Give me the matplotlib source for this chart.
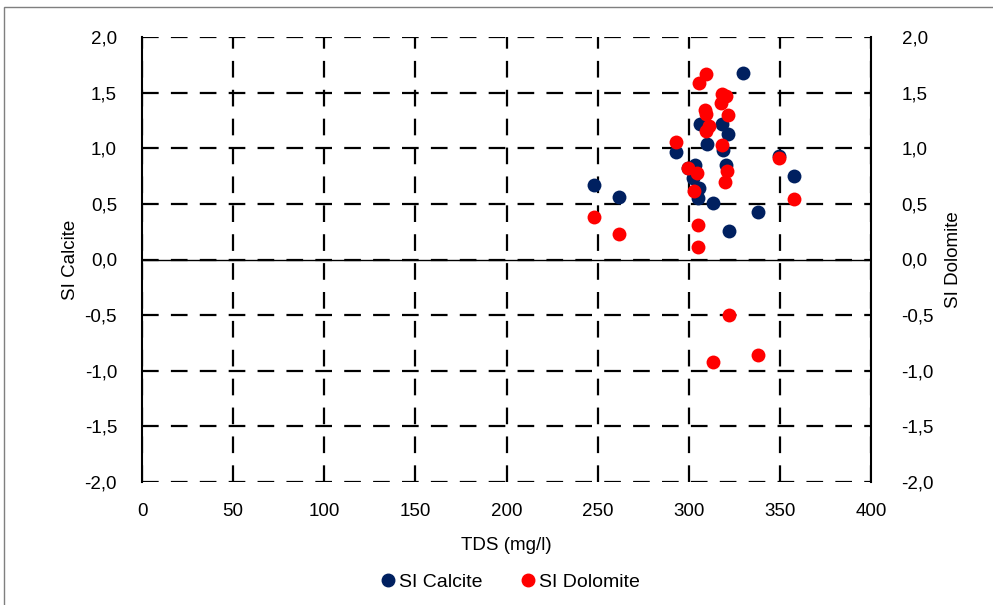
import matplotlib
matplotlib.use('Agg')
import matplotlib.pyplot as plt
import matplotlib.ticker as mticker
from matplotlib.lines import Line2D
from matplotlib.patches import Rectangle

plt.rcParams['font.family'] = ['Liberation Sans Narrow', 'Liberation Sans', 'DejaVu Sans']

# TDS (mg/l) and saturation indices
tds_calcite = [329.6, 306.2, 318.1, 321.8, 309.8, 319.0, 293.0, 320.5, 303.4, 299.7,
               302.5, 305.8, 305.2, 313.5, 248.0, 261.8, 337.9, 322.3, 357.5, 349.7]
si_calcite = [1.68, 1.22, 1.22, 1.13, 1.04, 0.98, 0.97, 0.85, 0.85, 0.825,
              0.735, 0.645, 0.555, 0.507, 0.67, 0.56, 0.426, 0.255, 0.75, 0.93]

tds_dolomite = [309.5, 305.8, 318.1, 320.5, 317.7, 308.9, 309.5, 321.8, 311.3, 309.5,
                293.0, 318.1, 299.7, 304.3, 320.9, 320.0, 303.0, 248.0, 261.8, 305.2,
                305.2, 349.7, 357.5, 322.3, 313.5, 337.9]
si_dolomite = [1.67, 1.59, 1.49, 1.47, 1.41, 1.34, 1.31, 1.30, 1.20, 1.156,
               1.06, 1.03, 0.82, 0.78, 0.80, 0.70, 0.615, 0.38, 0.23, 0.31,
               0.11, 0.91, 0.54, -0.50, -0.925, -0.86]

navy = '#002060'
red = '#FF0000'
W, H = 993, 605
fsize = 13.5


def comma(v, pos):
    return ('%.1f' % v).replace('.', ',')


fig = plt.figure(figsize=(W / 100, H / 100), dpi=100)

# thin frame of the chart area (only top/left visible in the crop)
fig.patches.append(Rectangle((4 / W, -0.1), 1.2, 1 - 7 / H + 0.1, transform=fig.transFigure,
                             fill=False, edgecolor='#7f7f7f', linewidth=1.0))

ax = fig.add_axes([142 / W, 1 - 482 / H, (871 - 142) / W, (482 - 37) / H])
ax.scatter(tds_calcite, si_calcite, s=100, color=navy, zorder=3, linewidths=0)
ax.scatter(tds_dolomite, si_dolomite, s=100, color=red, zorder=4, linewidths=0)

ax.set_xlim(0, 400)
ax.set_ylim(-2, 2)
ax.set_xticks(range(0, 401, 50))
ax.set_yticks([-2, -1.5, -1, -0.5, 0, 0.5, 1, 1.5, 2])
ax.yaxis.set_major_formatter(mticker.FuncFormatter(comma))

ax.grid(True, color='black', linestyle=(0, (7.5, 5.5)), linewidth=1.6, zorder=1)
ax.set_axisbelow(True)
for side in ['top', 'bottom']:
    ax.spines[side].set_visible(False)
for side in ['left', 'right']:
    ax.spines[side].set_linewidth(1.5)
ax.axhline(0, color='black', linewidth=1.0, zorder=2)
ax.tick_params(length=0, labelsize=fsize)
ax.tick_params(axis='x', pad=15)
ax.tick_params(axis='y', pad=18)

ax.set_xlabel('TDS (mg/l)', fontsize=fsize, labelpad=12)
ax.set_ylabel('SI Calcite', fontsize=fsize, labelpad=4)

ax2 = ax.twinx()
ax2.set_ylim(-2, 2)
ax2.set_yticks([-2, -1.5, -1, -0.5, 0, 0.5, 1, 1.5, 2])
ax2.yaxis.set_major_formatter(mticker.FuncFormatter(comma))
ax2.tick_params(length=0, labelsize=fsize, pad=22)
for side in ['top', 'bottom', 'left', 'right']:
    ax2.spines[side].set_visible(False)
ax2.set_ylabel('SI Dolomite', fontsize=fsize, labelpad=8)

handles = [Line2D([], [], marker='o', linestyle='none', color=navy, markersize=9),
           Line2D([], [], marker='o', linestyle='none', color=red, markersize=9)]
fig.legend(handles, ['SI Calcite', 'SI Dolomite'], loc='center', bbox_to_anchor=(0.51, 1 - 582 / H),
           ncol=2, frameon=False, fontsize=fsize + 0.5, handletextpad=-0.2, columnspacing=1.6,
           handlelength=1.5)

fig.savefig('out.png', dpi=100)
